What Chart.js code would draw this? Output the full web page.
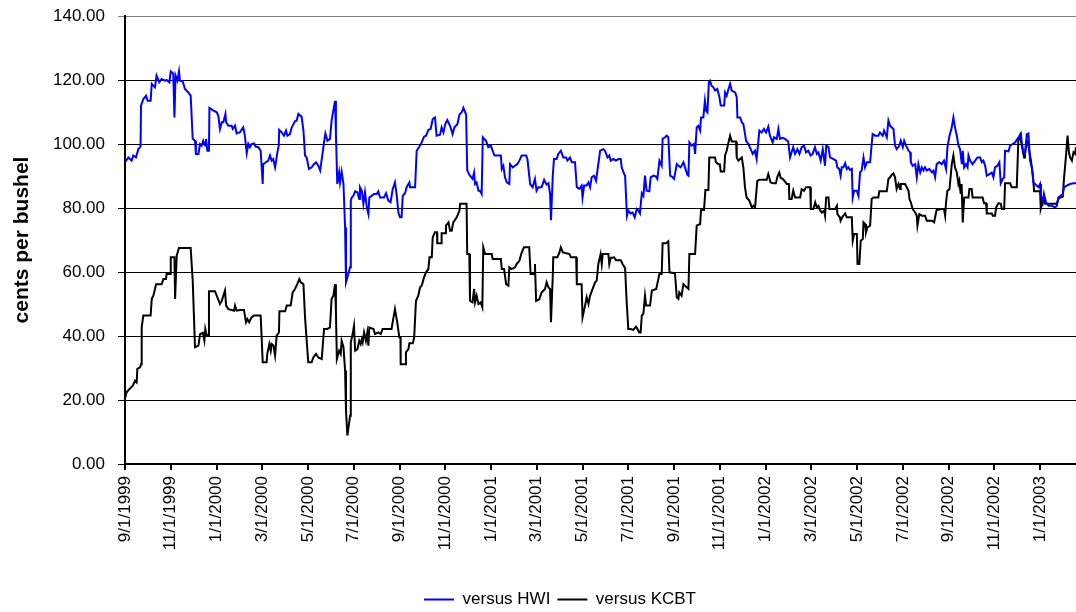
<!DOCTYPE html>
<html>
<head>
<meta charset="utf-8">
<script src="https://cdn.jsdelivr.net/npm/chart.js@4.4.1/dist/chart.umd.min.js"></script>
<style>
  html, body { margin: 0; padding: 0; background: #fff; }
  #wrap { width: 1076px; height: 612px; }
</style>
</head>
<body>
<div id="wrap"><canvas id="basisChart" width="1076" height="612"></canvas></div>
<script>
// x positions are months after 9/1/1999 (the axis is spaced evenly by month)
const tickMonths = [0, 2, 4, 6, 8, 10, 12, 14, 16, 18, 20, 22, 24, 26, 28, 30, 32, 34, 36, 38, 40];
const tickLabels = [
  "9/1/1999", "11/1/1999", "1/1/2000", "3/1/2000", "5/1/2000", "7/1/2000", "9/1/2000",
  "11/1/2000", "1/1/2001", "3/1/2001", "5/1/2001", "7/1/2001", "9/1/2001", "11/1/2001",
  "1/1/2002", "3/1/2002", "5/1/2002", "7/1/2002", "9/1/2002", "11/1/2002", "1/1/2003"
];
const lastMonth = 41.57;

// versus HWI (blue)
const hwiMonths = [
  0, 0.15, 0.29, 0.36, 0.48, 0.58, 0.68, 0.70, 0.80, 0.92, 0.99, 1.12, 1.17, 1.31, 1.38, 1.50,
  1.60, 1.75, 1.82, 1.94, 2.00, 2.11, 2.16, 2.21, 2.29, 2.36, 2.40, 2.52, 2.62, 2.77, 2.87, 2.96,
  3.06, 3.10, 3.21, 3.28, 3.35, 3.42, 3.50, 3.54, 3.60, 3.67, 3.69, 3.83, 4.01, 4.08, 4.15, 4.23,
  4.30, 4.39, 4.42, 4.52, 4.66, 4.71, 4.81, 4.88,
  5.03, 5.17, 5.24, 5.32, 5.39, 5.46, 5.53, 5.64, 5.71, 5.83, 5.93, 6.02, 6.04, 6.16, 6.26, 6.34,
  6.41, 6.48, 6.56, 6.66, 6.72, 6.74, 6.85, 6.95, 7.04, 7.10, 7.21, 7.29, 7.43, 7.50, 7.58, 7.72,
  7.80, 7.87, 7.94, 8.04, 8.16, 8.26, 8.35, 8.45, 8.53, 8.60, 8.70, 8.76, 8.85, 8.96, 9.03, 9.11,
  9.18, 9.22, 9.28, 9.36, 9.40, 9.47, 9.55, 9.62, 9.66, 9.76, 9.84, 9.87, 9.91, 9.98, 10.06, 10.16, 10.24,
  10.27, 10.35, 10.42, 10.49, 10.57, 10.64, 10.68, 10.78, 10.89, 11.00, 11.07, 11.15, 11.32, 11.41,
  11.51, 11.61, 11.70, 11.80, 11.88, 11.95, 12.02, 12.09, 12.14, 12.24, 12.31, 12.43, 12.46, 12.68,
  12.75, 12.87, 12.97, 13.07, 13.16, 13.26, 13.36, 13.45, 13.55, 13.62, 13.77, 13.84, 13.92, 14.00,
  14.09, 14.21, 14.32, 14.40, 14.53, 14.62, 14.72, 14.79, 14.91, 14.96, 15.08, 15.19, 15.26, 15.30,
  15.37, 15.45,
  15.52, 15.59, 15.64, 15.78, 15.88, 15.99, 16.07, 16.15, 16.25, 16.43, 16.47, 16.54, 16.61, 16.69,
  16.80, 16.83, 16.95, 17.05, 17.15, 17.24, 17.34, 17.54, 17.59, 17.71, 17.82, 17.92, 17.99, 18.07,
  18.21, 18.32, 18.43, 18.51, 18.58, 18.62, 18.70, 18.75, 18.87, 18.94, 19.05, 19.16, 19.28, 19.34,
  19.45, 19.53, 19.67, 19.75, 19.86, 19.96, 20.00, 20.07, 20.18, 20.26, 20.33, 20.40, 20.50, 20.59,
  20.65, 20.72,
  20.77, 20.91, 20.98, 21.09, 21.17, 21.23, 21.35, 21.46, 21.57, 21.67, 21.71, 21.82, 21.86, 21.94,
  22.00, 22.10, 22.19, 22.28, 22.37, 22.44, 22.51, 22.59, 22.66, 22.73, 22.80, 22.92, 22.98, 23.10,
  23.21, 23.27, 23.36, 23.46, 23.50, 23.61, 23.68, 23.75, 23.83, 23.94, 24.00, 24.12, 24.19, 24.29,
  24.41, 24.48, 24.58, 24.63, 24.67, 24.77, 24.87, 24.92, 24.99, 25.06, 25.14, 25.18, 25.28, 25.35,
  25.40, 25.46, 25.52, 25.57, 25.64, 25.72, 25.79, 25.89, 25.98,
  26.04, 26.19, 26.23, 26.30, 26.38, 26.45, 26.52, 26.67, 26.74, 26.77, 26.89, 26.96, 27.03, 27.15,
  27.25, 27.35, 27.44, 27.54, 27.61, 27.73, 27.83, 27.93, 28.02, 28.12, 28.19, 28.31, 28.37, 28.49,
  28.56, 28.63, 28.75, 28.85, 28.99, 29.07, 29.14, 29.21, 29.29, 29.39, 29.48, 29.58, 29.68, 29.77,
  29.87, 29.97, 30.06, 30.16, 30.24, 30.31, 30.41, 30.50, 30.60, 30.65, 30.75, 30.82, 30.97, 31.08,
  31.14, 31.22,
  31.28, 31.33, 31.40, 31.48, 31.55, 31.62, 31.69, 31.77, 31.81, 31.87, 31.99, 32.06, 32.13, 32.20,
  32.28, 32.35, 32.43, 32.57, 32.64, 32.68, 32.79, 32.93, 33.00, 33.12, 33.18, 33.30, 33.37, 33.44,
  33.59, 33.66, 33.73, 33.85, 33.91, 34.00, 34.06, 34.14, 34.25, 34.32, 34.35, 34.43, 34.54, 34.61,
  34.68, 34.76, 34.83, 34.90, 34.97, 35.05, 35.16, 35.27, 35.34, 35.41, 35.48, 35.60, 35.70, 35.80,
  35.89, 35.95, 36.04, 36.14, 36.21, 36.28, 36.36, 36.43, 36.47,
  36.50, 36.58, 36.62, 36.68, 36.76, 36.83, 36.87, 36.94, 37.05, 37.16, 37.26, 37.38, 37.45, 37.52,
  37.60, 37.67, 37.79, 37.89, 37.96, 38.03, 38.13, 38.22, 38.28, 38.37, 38.43, 38.47, 38.62, 38.69,
  38.80, 38.91, 39.01, 39.10, 39.16, 39.20, 39.27, 39.34, 39.42, 39.49, 39.56, 39.64, 39.71, 39.78,
  39.85, 39.93, 40.00, 40.04, 40.12, 40.17, 40.26, 40.37, 40.51, 40.66, 40.73, 40.80, 40.90, 40.99,
  41.05, 41.17, 41.31, 41.46, 41.57
];
const hwiValues = [
  94.3, 95.8, 94.8, 96.4, 95.8, 98.4, 99.2, 112.0, 114.0, 115.1, 113.5, 113.5, 118.8, 117.7, 121.4, 119.3,
  120.3, 119.8, 120.0, 119.3, 122.7, 122.0, 108.3, 121.4, 119.8, 122.7, 119.8, 119.6, 117.2, 116.1, 115.1, 101.6,
  101.0, 96.9, 96.9, 100.0, 99.5, 101.0, 99.5, 101.6, 97.9, 97.9, 111.3, 110.6, 109.9, 108.8, 104.7, 106.8,
  106.8, 109.4, 106.8, 105.7, 105.7, 104.7, 105.7, 103.3,
  103.7, 105.2, 102.6, 97.1, 100.0, 99.0, 100.0, 100.2, 99.2, 99.0, 97.9, 87.5, 93.7, 94.3, 94.8, 96.4,
  94.8, 95.3, 92.7, 97.4, 99.5, 104.4, 103.6, 102.6, 104.2, 102.6, 103.1, 105.2, 107.1, 107.3, 109.4, 108.5,
  104.2, 96.4, 95.8, 92.2, 92.7, 93.7, 94.3, 93.2, 91.7, 95.3, 100.5, 103.3, 101.0, 101.6, 107.3, 110.6,
  113.5, 103.1, 87.5, 91.1, 88.0, 91.4, 87.5, 74.0, 56.8, 59.4, 61.5, 82.3, 83.3, 83.8, 85.2, 84.9, 82.8,
  86.5, 85.4, 81.3, 84.9, 80.2, 78.1, 83.3, 83.8, 84.4, 84.4, 85.2, 83.3, 83.3, 84.6,
  82.3, 81.8, 85.9, 88.0, 83.8, 78.6, 77.1, 77.1, 83.8, 84.6, 86.5, 88.0, 86.5, 86.5,
  97.9, 99.2, 100.5, 102.3, 102.6, 104.4, 104.7, 107.8, 108.3, 102.6, 102.9, 105.2, 103.6, 106.2,
  107.5, 105.7, 103.1, 105.2, 106.2, 109.2, 109.9, 111.3, 109.2, 91.7, 90.1, 89.1, 91.1, 87.5,
  88.0, 85.4,
  85.4, 84.4, 102.1, 101.0, 99.0, 99.5, 97.9, 96.4, 96.4, 96.4, 92.2, 93.2, 89.6, 88.0,
  87.5, 93.7, 92.7, 93.2, 93.7, 94.8, 96.4, 96.4, 95.3, 87.5, 86.5, 89.1, 85.4, 86.5,
  86.5, 88.8, 87.3, 87.7, 84.4, 76.2, 90.1, 95.3, 95.3, 96.9, 97.9, 95.8, 95.8, 94.8,
  95.8, 94.3, 94.3, 86.5, 86.0, 87.0, 83.3, 87.0, 87.0, 88.0, 86.5, 89.6, 90.1, 88.5,
  91.7, 95.3,
  97.9, 98.4, 97.9, 95.8, 96.4, 94.8, 95.3, 94.8, 95.3, 95.3, 92.7, 90.6, 90.1, 77.6,
  79.2, 78.3, 78.6, 77.1, 79.7, 79.2, 78.3, 84.6, 83.8, 90.1, 85.4, 85.2, 89.6, 90.1,
  89.8, 89.1, 94.8, 93.2, 101.6, 102.1, 102.6, 102.1, 90.1, 89.6, 89.1, 93.7, 93.2, 92.7,
  94.3, 92.7, 90.4, 90.1, 100.5, 99.5, 100.0, 96.9, 105.2, 105.7, 104.2, 108.3, 108.3, 113.5,
  110.4, 109.9, 119.3, 119.8, 118.2, 117.7, 116.7, 117.2, 114.8,
  112.0, 112.0, 116.1, 115.1, 117.2, 118.8, 116.7, 116.1, 114.6, 108.3, 108.3, 106.8, 106.2, 101.0,
  100.0, 98.4, 96.9, 97.9, 95.3, 104.2, 103.6, 104.7, 103.6, 105.4, 102.6, 100.5, 102.1, 101.6,
  104.7, 101.6, 101.9, 101.6, 100.8, 95.8, 97.4, 99.0, 96.9, 98.4, 96.9, 99.0, 99.5, 97.4,
  97.9, 96.4, 96.9, 99.0, 96.9, 97.4, 94.8, 98.4, 93.2, 99.5, 99.0, 95.8, 95.3, 94.8,
  92.7, 92.2,
  90.1, 92.7, 92.7, 94.0, 92.2, 92.7, 91.9, 92.2, 83.3, 85.4, 85.4, 83.8, 91.1, 91.7,
  95.8, 92.7, 94.3, 94.3, 100.0, 103.1, 102.6, 102.6, 103.6, 102.6, 104.2, 102.1, 107.3, 105.7,
  104.7, 99.5, 98.4, 99.5, 101.0, 99.0, 101.0, 99.5, 97.9, 97.4, 94.3, 93.2, 93.7, 89.6,
  93.7, 91.1, 92.7, 91.7, 92.7, 91.7, 92.2, 91.1, 91.7, 89.6, 93.7, 94.3, 93.7, 94.8,
  92.2, 99.0, 102.6, 105.2, 108.3, 105.2, 102.6, 99.5, 99.0,
  98.4, 93.7, 97.9, 92.7, 93.7, 92.7, 96.4, 94.8, 93.7, 94.8, 95.8, 95.8, 94.3, 94.8,
  93.2, 90.1, 90.6, 91.1, 89.6, 92.7, 93.2, 94.3, 87.7, 89.1, 89.6, 97.9, 97.7, 99.5,
  100.0, 100.5, 101.6, 102.6, 103.3, 100.5, 97.4, 96.9, 103.1, 103.3, 94.8, 92.7, 88.0, 87.5,
  87.0, 86.5, 87.5, 83.8, 81.8, 84.4, 81.8, 80.7, 80.7, 80.2, 80.7, 83.3, 83.8, 84.4,
  86.5, 87.0, 87.5, 87.7, 87.7
];

// versus KCBT (black)
const kcbtMonths = [
  0, 0.07, 0.19, 0.34, 0.44, 0.51, 0.54, 0.66, 0.70, 0.73, 0.80, 1.12, 1.17, 1.24, 1.36, 1.60,
  1.68, 1.79, 1.82, 1.97, 2.00, 2.16, 2.19, 2.26, 2.36, 2.87, 2.96, 3.06, 3.21, 3.28, 3.40, 3.47,
  3.51, 3.57, 3.64, 3.67, 3.93, 4.01, 4.15, 4.23, 4.37, 4.42, 4.52, 4.77, 4.81, 4.88,
  5.03, 5.20, 5.29, 5.35, 5.43, 5.53, 5.64, 5.93, 6.02, 6.19, 6.22, 6.31, 6.37, 6.41, 6.49, 6.56,
  6.63, 6.73, 6.75, 7.00, 7.07, 7.24, 7.33, 7.43, 7.53, 7.62, 7.68, 7.80, 7.87, 8.01, 8.16, 8.23,
  8.35, 8.45, 8.60, 8.70, 8.85, 8.96, 9.03, 9.11, 9.18, 9.22, 9.26, 9.36, 9.43, 9.47, 9.55, 9.62,
  9.66, 9.72, 9.84, 9.87, 9.95, 10.01, 10.06, 10.16, 10.24, 10.30,
  10.35, 10.39, 10.45, 10.53, 10.59, 10.64, 10.68, 10.86, 10.93, 11.07, 11.18, 11.26, 11.65, 11.80,
  11.90, 11.99, 12.04, 12.05, 12.24, 12.28, 12.39, 12.43, 12.58, 12.64, 12.72, 12.82, 12.90, 12.97,
  13.07, 13.16, 13.26, 13.31, 13.41, 13.45, 13.55, 13.64, 13.65, 13.83, 13.84, 13.99, 14.03, 14.14,
  14.21, 14.28, 14.35, 14.50, 14.62, 14.65, 14.93, 14.96, 15.05, 15.08, 15.19, 15.26, 15.30, 15.37,
  15.45, 15.55, 15.62,
  15.66, 15.74, 16.03, 16.07, 16.43, 16.47, 16.57, 16.66, 16.76, 16.80, 16.90, 17.05, 17.12, 17.24,
  17.34, 17.44, 17.67, 17.73, 17.88, 17.92, 17.97, 18.11, 18.21, 18.36, 18.43, 18.51, 18.58, 18.62,
  18.70, 18.72, 18.90, 18.99, 19.05, 19.14, 19.43, 19.49, 19.72, 19.75, 19.96, 20.00, 20.11, 20.18,
  20.26, 20.33, 20.44, 20.55, 20.62, 20.69, 20.79,
  20.84, 20.88, 21.13, 21.17, 21.23, 21.38, 21.46, 21.67, 21.75, 21.86, 21.93, 22.00, 22.10, 22.22,
  22.34, 22.40, 22.48, 22.54, 22.59, 22.66, 22.73, 22.78, 22.95, 23.03, 23.22, 23.36, 23.46, 23.50,
  23.65, 23.75, 23.80, 24.04, 24.12, 24.19, 24.23, 24.33, 24.41, 24.55, 24.63, 24.67, 24.92, 24.99,
  25.14, 25.18, 25.31, 25.37, 25.50, 25.54, 25.79, 25.83, 25.94, 26.00,
  26.04, 26.19, 26.23, 26.30, 26.38, 26.45, 26.52, 26.71, 26.74, 26.81, 26.96, 27.03, 27.10, 27.17,
  27.29, 27.40, 27.47, 27.54, 27.64, 27.73, 28.05, 28.12, 28.22, 28.34, 28.45, 28.52, 28.60, 28.66,
  28.75, 28.93, 29.02, 29.04, 29.14, 29.21, 29.29, 29.51, 29.58, 29.68, 29.77, 29.95, 29.98, 30.09,
  30.17, 30.24, 30.31, 30.39, 30.46, 30.56, 30.60, 30.65, 30.75, 30.79, 31.04, 31.12, 31.14, 31.25,
  31.28, 31.37, 31.48, 31.55, 31.77, 31.81, 31.87, 31.99, 32.02, 32.10, 32.16, 32.25, 32.28, 32.35,
  32.39, 32.45, 32.57, 32.64, 32.71, 32.93, 32.97, 33.30, 33.37, 33.44, 33.52, 33.59, 33.66, 33.73,
  33.81, 33.88, 33.91, 34.10, 34.17, 34.25, 34.29, 34.35, 34.43, 34.54, 34.61, 34.64, 34.72, 34.83,
  34.97, 35.05, 35.27, 35.37, 35.41, 35.48, 35.70, 35.80, 35.85, 35.89, 35.95, 36.04, 36.14, 36.21,
  36.28, 36.36, 36.43, 36.47, 36.53, 36.57, 36.62, 36.68,
  36.87, 36.91, 37.01, 37.05, 37.49, 37.55, 37.64, 37.67, 37.89, 37.93, 38.03, 38.08, 38.18, 38.28,
  38.33, 38.43, 38.47, 38.69, 38.76, 38.98, 39.05, 39.12, 39.20, 39.30, 39.34, 39.42, 39.49, 39.59,
  39.68, 39.74, 40.00, 40.03, 40.15, 40.22, 40.73, 40.80, 40.87, 40.99, 41.05, 41.14, 41.20, 41.26,
  41.31, 41.39, 41.46, 41.53, 41.57
];
const kcbtValues = [
  20.5, 22.4, 23.4, 24.5, 26.0, 25.5, 29.7, 30.2, 31.2, 42.7, 46.4, 46.4, 51.6, 52.6, 56.2, 56.2,
  57.8, 57.8, 59.4, 59.4, 64.6, 64.6, 51.6, 65.1, 67.5, 67.5, 57.3, 36.5, 37.0, 40.6, 41.0, 38.5,
  42.2, 40.2, 40.2, 54.0, 54.0, 52.6, 50.0, 51.0, 54.2, 49.5, 48.4, 47.9, 49.5, 47.9,
  48.1, 48.1, 44.3, 45.3, 44.3, 45.8, 46.4, 46.4, 31.8, 31.8, 34.4, 37.5, 35.4, 37.5, 37.0, 33.9,
  40.1, 41.1, 47.7, 47.7, 49.5, 49.5, 53.6, 54.7, 56.2, 57.8, 56.8, 56.2, 45.8, 31.8, 31.8, 33.3,
  34.4, 33.3, 32.8, 42.2, 42.2, 42.7, 51.6, 52.6, 56.2, 47.9, 32.8, 35.4, 34.4, 38.5, 36.5, 29.2,
  16.7, 8.9, 15.1, 38.0, 40.6, 43.2, 35.4, 35.9, 38.5, 37.5,
  39.0, 38.0, 41.1, 38.5, 41.1, 37.0, 42.7, 42.2, 40.6, 41.1, 40.6, 42.2, 42.2, 48.4,
  44.3, 39.6, 39.6, 31.2, 31.2, 34.9, 35.9, 37.7, 37.7, 39.6, 51.0, 52.6, 55.2, 55.7,
  58.3, 59.9, 60.9, 64.6, 64.6, 70.8, 72.4, 72.4, 69.0, 69.0, 72.1, 72.1, 74.5, 75.5,
  72.9, 72.9, 75.5, 77.1, 79.2, 81.3, 81.3, 65.6, 65.6, 51.0, 50.5, 54.7, 50.5, 52.6,
  50.0, 50.5, 49.0,
  67.7, 65.6, 65.6, 64.1, 64.1, 60.9, 60.9, 56.2, 55.7, 61.5, 60.9, 61.5, 62.5, 63.5,
  66.1, 67.7, 67.7, 59.4, 59.4, 62.5, 51.0, 51.5, 53.6, 54.7, 56.8, 55.2, 54.7, 44.3,
  58.9, 64.6, 64.6, 66.1, 67.7, 66.1, 65.6, 64.6, 64.6, 56.2, 56.2, 45.8, 49.5, 52.1,
  50.0, 52.6, 54.7, 56.8, 57.3, 62.5, 65.6,
  62.5, 65.6, 65.6, 62.5, 64.4, 64.6, 63.7, 63.7, 62.5, 61.2, 50.5, 42.2, 42.2, 41.9,
  42.9, 42.2, 41.1, 41.1, 46.4, 46.9, 52.6, 49.5, 49.5, 54.2, 54.7, 59.4, 59.4, 69.0,
  69.0, 69.6, 59.9, 59.6, 52.1, 51.6, 53.6, 52.6, 56.2, 55.2, 54.7, 65.6, 65.6, 74.5,
  75.0, 79.4, 79.4, 85.6, 85.6, 95.8, 95.8, 94.3, 93.7, 93.7,
  91.4, 91.4, 96.4, 97.9, 100.5, 102.6, 100.8, 100.8, 95.8, 94.8, 95.8, 92.7, 86.5, 83.3,
  82.3, 80.2, 80.7, 80.2, 88.5, 88.8, 88.8, 90.6, 88.0, 87.7, 87.7, 89.8, 91.1, 89.4,
  89.1, 87.5, 87.5, 82.8, 82.8, 85.4, 83.3, 83.3, 85.9, 85.4, 86.5, 86.5, 79.7, 79.7,
  81.8, 80.2, 80.7, 79.2, 78.6, 79.2, 77.6, 83.3, 83.3, 79.7, 79.7, 80.7, 78.1, 77.1,
  76.0, 77.3, 78.3, 77.1, 77.1, 69.8, 71.9, 71.9, 62.5, 62.5, 69.8, 70.3, 75.5, 75.0,
  72.4, 73.9, 74.5, 82.8, 83.3, 83.3, 85.2, 85.2, 89.1, 89.6, 90.4, 90.8, 89.6, 85.9,
  87.5, 85.9, 87.5, 87.5, 86.5, 85.4, 82.8, 81.8, 79.7, 78.6, 77.6, 74.5, 78.1, 77.6,
  77.6, 76.0, 76.0, 75.5, 77.1, 79.4, 79.7, 79.7, 77.6, 81.8, 85.4, 85.9, 93.7, 96.4,
  92.7, 91.1, 87.5, 88.5, 84.4, 87.5, 75.5, 83.3,
  83.3, 85.9, 85.9, 83.3, 83.3, 81.5, 81.5, 78.3, 78.3, 77.6, 77.6, 80.2, 81.5, 81.3,
  79.7, 79.7, 87.7, 87.7, 86.5, 86.5, 101.0, 102.6, 99.5, 95.8, 96.9, 101.0, 99.5, 95.3,
  90.6, 85.2, 85.2, 79.7, 82.8, 81.3, 81.3, 82.8, 83.3, 83.5, 89.6, 96.9, 102.6, 97.4,
  95.8, 94.8, 97.4, 96.9, 99.0
];

const toPoints = (months, values) => months.map((m, i) => ({ x: m, y: values[i] }));

Chart.defaults.font.family = "'Liberation Sans', Arial, sans-serif";
Chart.defaults.color = "#000";

// legend sits a little right of the canvas centre in the original
const legendNudge = {
  id: "legendNudge",
  afterLayout(chart) {
    chart.legend.left += 44;
  },
};

const ctx = document.getElementById("basisChart").getContext("2d");

const basisChart = new Chart(ctx, {
  type: "line",
  data: {
    datasets: [
      {
        label: "versus HWI",
        data: toPoints(hwiMonths, hwiValues),
        borderColor: "#0000ff",
        backgroundColor: "#0000ff",
        borderWidth: 2,
        pointRadius: 0,
        tension: 0,
        fill: false,
      },
      {
        label: "versus KCBT",
        data: toPoints(kcbtMonths, kcbtValues),
        borderColor: "#000000",
        backgroundColor: "#000000",
        borderWidth: 2,
        pointRadius: 0,
        tension: 0,
        fill: false,
      },
    ],
  },
  plugins: [legendNudge],
  options: {
    responsive: false,
    animation: false,
    devicePixelRatio: 1,
    layout: { padding: { top: 16, right: 0, bottom: 0, left: 0 } },
    plugins: {
      legend: {
        position: "bottom",
        maxHeight: 28,
        labels: {
          usePointStyle: true,
          pointStyle: "line",
          pointStyleWidth: 30,
          padding: 7,
          color: "#000",
          font: { size: 17 },
        },
      },
      tooltip: { enabled: false },
    },
    scales: {
      x: {
        type: "linear",
        min: 0,
        max: lastMonth,
        afterBuildTicks: (scale) => {
          scale.ticks = tickMonths.map((v) => ({ value: v }));
        },
        afterFit: (scale) => {
          scale.height = 120;
        },
        grid: {
          drawOnChartArea: false,
          drawTicks: true,
          tickLength: 6,
          color: "#000",
          lineWidth: 2,
        },
        border: { color: "#000", width: 2 },
        ticks: {
          autoSkip: false,
          minRotation: 90,
          maxRotation: 90,
          padding: 6,
          color: "#000",
          font: { size: 17 },
          callback: (v) => tickLabels[tickMonths.indexOf(v)],
        },
      },
      y: {
        min: 0,
        max: 140,
        afterFit: (scale) => {
          scale.width = 125;
          // the label padding should not push the plot area down
          scale.paddingTop = 0;
          scale.paddingBottom = 0;
        },
        ticks: {
          stepSize: 20,
          padding: 13,
          color: "#000",
          font: { size: 17 },
          callback: (v) => v.toFixed(2),
        },
        grid: {
          color: (c) => (c.tick && c.tick.value === 140 ? "#808080" : "#000"),
          lineWidth: 1,
          tickLength: 7,
        },
        border: { color: "#000", width: 2 },
        title: {
          display: true,
          text: "cents per bushel",
          color: "#000",
          font: { size: 21, weight: "bold" },
          padding: { top: 10, bottom: 0 },
        },
      },
    },
  },
});
</script>
</body>
</html>
